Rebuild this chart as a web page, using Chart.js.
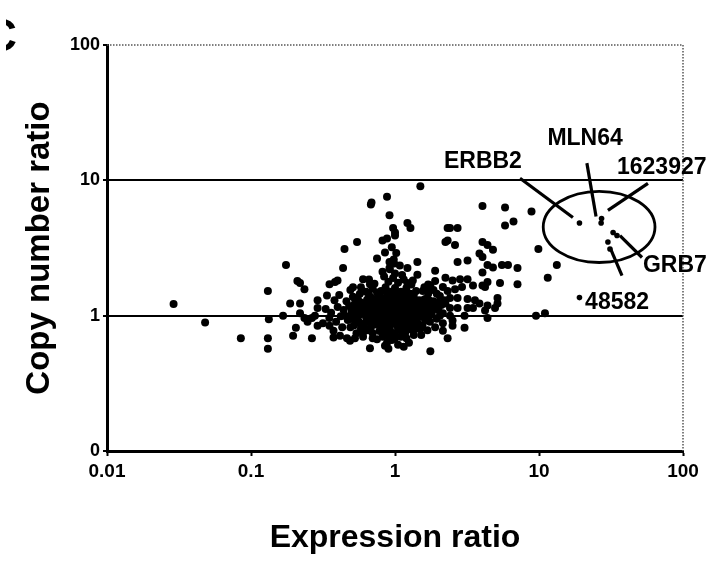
<!DOCTYPE html>
<html>
<head>
<meta charset="utf-8">
<script src="https://cdn.jsdelivr.net/npm/chart.js@4.4.1/dist/chart.umd.min.js"></script>
<style>
  html, body { margin: 0; padding: 0; background: #fff; }
  canvas { display: block; }
</style>
</head>
<body>
<canvas id="mygraph" width="714" height="561"></canvas>
<script>
const FONT = "'Liberation Sans', Arial, sans-serif";

// axis ticks
const expressionTicks = [0.01, 0.1, 1, 10, 100];
const copyTicks = [0.1, 1, 10, 100];
const copyTickLabels = ['0', '1', '10', '100'];

// scattered genes (expression ratio, copy number ratio)
const outliers = [
  [0.029,1.22],[0.048,0.89],[0.085,0.68],
  [0.131,1.52],[0.133,0.94],[0.131,0.68],[0.131,0.57],
  [0.175,2.37],[0.187,1.23],[0.167,1.0],[0.196,0.71],
  [0.21,1.8],[0.219,1.74],[0.235,1.57],[0.205,0.815],[0.265,0.68],
  [0.29,1.3],[0.29,1.14],[0.351,1.71],[0.399,1.82],[0.383,1.77],
  [0.446,3.11],[0.436,2.25],[0.545,3.5],
  [0.374,0.69],[0.527,0.68],[0.67,0.574],[0.852,0.6],
  [0.219,1.23],[0.337,1.41],[0.316,0.88],[0.351,0.843],[0.374,0.774],[0.415,0.711],
  [0.265,0.96],[0.219,1.04],[0.235,0.96],[0.247,0.9],[0.278,1.0],[0.29,0.843],
  [1.5,9.03],[0.88,7.55],[0.687,6.87],[0.68,6.64],[0.916,5.51],[1.22,4.84],[1.28,4.45],
  [0.97,4.45],[1.0,4.12],[1.0,3.91],[0.819,3.59],[0.88,3.72],[0.852,2.93],
  [2.32,3.59],[2.32,4.45],[0.75,2.64],[0.916,2.49],[0.985,2.43],[1.43,2.49],
  [1.22,2.25],[0.916,2.25],[0.819,2.11],[1.43,2.01],[1.9,2.15],
  [0.6,1.86],[0.67,1.71],[1.22,1.74],[1.33,1.82],[0.511,1.62],[1.76,1.67],[1.56,1.52],[2.15,1.63],
  [1.76,0.545],[0.852,0.75],[0.916,0.68],[0.464,0.68],[0.487,0.653],
  [4.05,6.47],[5.81,6.31],[8.87,5.89],[5.81,4.64],[6.65,4.97],
  [2.41,4.45],[2.72,4.45],[2.24,3.5],[2.61,3.33],
  [4.05,3.5],[4.39,3.33],[4.79,3.07],[3.86,2.88],[4.05,2.71],
  [2.72,2.49],[3.19,2.56],[4.39,2.37],[4.79,2.27],[5.53,2.37],[6.09,2.37],[7.09,2.25],
  [9.9,3.11],[4.05,2.08],[5.36,1.74],[7.09,1.71],[11.5,1.91],[13.3,2.37],
  [2.24,1.91],[2.51,1.82],[2.83,1.86],[3.19,1.86],
  [3.48,1.67],[4.05,1.67],[4.39,1.77],[4.22,1.63],
  [2.32,1.52],[2.61,1.57],[2.92,1.63],
  [2.41,1.35],[2.72,1.35],[3.19,1.33],[3.59,1.3],
  [5.15,1.35],[5.15,1.23],[3.86,1.23],[4.39,1.19],[4.22,1.09],
  [2.24,1.23],[2.41,1.14],[2.72,1.14],[3.19,1.14],[3.48,1.14],
  [2.15,1.04],[2.41,1.0],[2.51,0.92],[2.51,0.843],
  [3.04,1.0],[4.39,0.96],[4.95,1.14],
  [9.53,1.0],[11.0,1.04],[3.04,0.815],[2.32,0.68],[2.15,0.774],[2.15,0.88]
];

// the dense cloud around 1:1
const cluster = [
  [0.61,0.87],[0.63,0.97],[0.6,1.08],[0.62,1.19],[0.64,1.31],
  [0.67,0.91],[0.69,1.02],[0.66,1.13],[0.7,1.24],[0.68,1.36],
  [0.73,0.86],[0.75,0.95],[0.72,1.06],[0.76,1.16],[0.74,1.27],[0.77,1.42],
  [0.8,0.89],[0.82,0.99],[0.79,1.1],[0.83,1.21],[0.81,1.33],
  [0.87,0.84],[0.89,0.94],[0.86,1.04],[0.9,1.14],[0.88,1.25],[0.91,1.38],
  [0.95,0.88],[0.97,0.98],[0.94,1.09],[0.98,1.19],[0.96,1.3],
  [1.03,0.85],[1.05,0.95],[1.02,1.05],[1.06,1.15],[1.04,1.26],[1.07,1.4],
  [1.12,0.89],[1.14,1.0],[1.11,1.1],[1.16,1.21],[1.13,1.32],
  [1.22,0.86],[1.25,0.96],[1.21,1.06],[1.26,1.17],[1.23,1.28],
  [1.33,0.9],[1.36,1.01],[1.32,1.11],[1.38,1.22],[1.35,1.34],
  [1.45,0.87],[1.48,0.98],[1.44,1.08],[1.5,1.18],[1.47,1.3],
  [0.47,0.93],[0.5,1.05],[0.48,1.18],[0.52,0.85],[0.55,0.98],[0.53,1.12],[0.56,1.27],[0.51,1.38],
  [0.58,0.8],[0.57,1.45],[0.44,1.1],[0.46,1.28],[0.42,0.99],[0.4,1.16],[0.43,0.82],[0.39,0.9],
  [0.36,1.05],[0.38,1.3],[0.35,0.96],[0.33,1.12],[0.41,1.42],[0.49,1.55],
  [0.54,0.74],[0.6,0.75],[0.65,0.78],[0.7,0.74],[0.78,0.77],[0.85,0.72],[0.93,0.76],[1.0,0.74],
  [1.1,0.78],[1.18,0.75],[1.3,0.79],[0.75,0.67],[0.95,0.66],[1.2,0.68],[0.88,0.63],[1.05,0.61],
  [0.63,1.5],[0.7,1.58],[0.8,1.52],[0.86,1.62],[0.94,1.5],[1.0,1.6],[1.1,1.5],[1.2,1.6],
  [1.28,1.45],[1.4,1.52],[0.72,1.72],[0.9,1.78],[0.97,1.9],[1.05,1.75],[1.15,1.85],[0.84,1.95],
  [1.3,1.7],[0.58,1.62],[0.66,1.85],[1.0,2.05],[0.92,2.2],[1.08,2.35],[0.98,2.6],[1.02,2.9],
  [0.95,3.2],[1.12,2.0],
  [1.55,0.85],[1.6,0.96],[1.58,1.08],[1.65,1.2],[1.62,1.33],[1.7,1.45],[1.75,0.9],[1.8,1.02],
  [1.78,1.15],[1.85,1.28],[1.9,0.82],[1.95,0.95],[2.0,1.1],[1.98,1.25],[2.05,1.4],[1.68,0.78],
  [1.52,0.72],[1.85,1.55],[1.6,1.62],[2.1,1.2],[2.2,1.3],[1.7,1.7],[1.9,1.8],
  [0.64,0.9],[0.65,1.0],[0.63,1.12],[0.66,1.24],
  [0.71,0.88],[0.7,0.98],[0.72,1.11],[0.71,1.2],[0.72,1.32],
  [0.78,0.92],[0.77,1.03],[0.79,1.15],[0.78,1.26],[0.79,1.38],
  [0.84,0.87],[0.85,0.97],[0.84,1.08],[0.86,1.18],[0.85,1.3],
  [0.92,0.9],[0.93,1.01],[0.92,1.12],[0.93,1.22],[0.94,1.35],
  [1.0,0.92],[0.99,1.02],[1.0,1.13],[1.01,1.23],[1.0,1.36],
  [1.08,0.87],[1.09,0.98],[1.08,1.08],[1.1,1.18],[1.09,1.29],
  [1.18,0.92],[1.19,1.03],[1.17,1.13],[1.2,1.24],[1.19,1.37],
  [1.29,0.87],[1.3,0.99],[1.28,1.08],[1.3,1.19],[1.29,1.3],
  [1.41,0.92],[1.42,1.04],[1.4,1.14],[1.43,1.26],
  [0.56,0.9],[0.57,1.02],[0.58,1.15],[0.55,1.35],[0.59,0.85],
  [0.5,0.95],[0.52,1.2],[0.45,1.0],[0.49,0.82],
  [1.52,1.0],[1.55,1.12],[1.53,1.25],[1.64,0.92],[1.66,1.05],[1.72,1.3],[1.82,1.1],[1.9,1.2],
  [1.75,1.55],[1.95,1.45],[2.05,1.0],
  [0.68,0.82],[0.8,0.8],[0.92,0.81],[1.05,0.8],[1.15,0.82],[1.25,0.81],[1.4,0.8],[0.62,0.8],
  [0.75,1.48],[0.88,1.45],[1.0,1.45],[1.12,1.42],[1.22,1.45],[0.66,1.42],[1.35,1.42],
  [0.82,0.7],[1.0,0.68],[1.1,0.7],[1.35,0.72],[0.7,0.68],[0.6,0.7],[1.5,0.8],[1.25,0.63],
  [0.9,0.57],[1.15,0.59],
  [0.52,1.0],[0.54,1.08],[0.5,1.12],[0.55,0.92],[0.53,1.3],[0.58,1.25],
  [1.6,1.05],[1.62,1.15],[1.7,0.98],[1.68,1.22],[1.75,1.1],[1.56,1.3]
];

// amplicon genes and 48582
const amplicon = [
  [19.1,4.84],[27.2,5.23],[27.0,4.84],[32.7,4.12],[34.8,3.91],[30.1,3.5],[31.1,3.11],[19.1,1.36]
];

// ellipse bounding box (x from, x to, y from, y to)
const ellipseBox = [10.7, 63.9, 2.47, 8.29];

// leader lines [x1, y1, x2, y2]
const leaders = [
  [7.38, 10.35, 17.2, 5.32],
  [21.5, 13.4, 24.9, 5.41],
  [57.1, 9.5, 30.1, 6.0],
  [36.5, 3.91, 51.9, 2.69],
  [31.1, 3.19, 37.7, 1.98]
];

// gene labels: text, x, y, alignment
const geneNames = ['ERBB2', 'MLN64', '1623927', 'GRB7', '48582'];
const geneX = [4.08, 20.9, 34.8, 52.7, 20.9];
const geneY = [13.7, 20.3, 12.4, 2.35, 1.24];
const geneAlign = ['center', 'center', 'left', 'left', 'left'];

const overlay = {
  id: 'overlay',
  beforeDatasetsDraw(chart) {
    const {ctx, chartArea: a} = chart;
    ctx.save();
    ctx.strokeStyle = '#555';
    ctx.lineWidth = 1.5;
    ctx.setLineDash([1.5, 1.5]);
    ctx.beginPath();
    ctx.moveTo(a.left, a.top);
    ctx.lineTo(a.right, a.top);
    ctx.lineTo(a.right, a.bottom);
    ctx.stroke();
    ctx.restore();
  },
  afterDatasetsDraw(chart) {
    const {ctx, chartArea: a} = chart;
    const xs = chart.scales.x, ys = chart.scales.y;
    ctx.save();
    ctx.strokeStyle = '#000';
    ctx.fillStyle = '#000';

    // ellipse
    const x1 = xs.getPixelForValue(ellipseBox[0]), x2 = xs.getPixelForValue(ellipseBox[1]);
    const y1 = ys.getPixelForValue(ellipseBox[3]), y2 = ys.getPixelForValue(ellipseBox[2]);
    ctx.lineWidth = 2.8;
    ctx.beginPath();
    ctx.ellipse((x1 + x2) / 2, (y1 + y2) / 2, (x2 - x1) / 2, (y2 - y1) / 2, 0, 0, Math.PI * 2);
    ctx.stroke();

    // leader lines
    ctx.lineWidth = 3.2;
    leaders.forEach(l => {
      ctx.beginPath();
      ctx.moveTo(xs.getPixelForValue(l[0]), ys.getPixelForValue(l[1]));
      ctx.lineTo(xs.getPixelForValue(l[2]), ys.getPixelForValue(l[3]));
      ctx.stroke();
    });

    // gene names
    ctx.font = 'bold 23px ' + FONT;
    ctx.textBaseline = 'middle';
    geneNames.forEach((name, i) => {
      ctx.textAlign = geneAlign[i];
      ctx.fillText(name, xs.getPixelForValue(geneX[i]), ys.getPixelForValue(geneY[i]));
    });

    // axis titles
    ctx.font = 'bold 32px ' + FONT;
    ctx.textAlign = 'center';
    ctx.fillText('Expression ratio', (a.left + a.right) / 2, a.bottom + 87);
    ctx.save();
    ctx.translate(40, (a.top + a.bottom) / 2);
    ctx.rotate(-Math.PI / 2);
    ctx.font = 'bold 33px ' + FONT;
    ctx.fillText('Copy number ratio', 0, 0);
    ctx.restore();

    // cut-off panel letter
    ctx.beginPath();
    ctx.rect(6, 0, 20, 70);
    ctx.clip();
    ctx.font = 'bold 46px ' + FONT;
    ctx.textAlign = 'right';
    ctx.fillText('C', 17, 38);
    ctx.restore();
  }
};

const tickFont = {family: FONT, size: 19, weight: 'bold'};

const config = {
  type: 'scatter',
  data: {
    datasets: [
      {
        label: 'genes',
        data: outliers.concat(cluster).map(p => ({x: p[0], y: p[1]})),
        backgroundColor: '#000',
        borderWidth: 0,
        pointRadius: 4
      },
      {
        label: 'amplicon',
        data: amplicon.map(p => ({x: p[0], y: p[1]})),
        backgroundColor: '#000',
        borderWidth: 0,
        pointRadius: 2.8
      }
    ]
  },
  options: {
    responsive: false,
    animation: false,
    devicePixelRatio: 1,
    layout: {padding: {left: 0, right: 31, top: 45, bottom: 0}},
    plugins: {legend: {display: false}, tooltip: {enabled: false}},
    scales: {
      x: {
        type: 'logarithmic',
        min: 0.01,
        max: 100,
        afterBuildTicks: s => { s.ticks = expressionTicks.map(v => ({value: v})); },
        afterFit: s => { s.height = 110; },
        ticks: {font: tickFont, color: '#000', padding: 4, maxRotation: 0,
          callback: v => String(v)},
        grid: {drawOnChartArea: false, tickColor: '#000', tickLength: 5, tickWidth: 2},
        border: {color: '#000', width: 3}
      },
      y: {
        type: 'logarithmic',
        min: 0.1,
        max: 100,
        afterBuildTicks: s => { s.ticks = copyTicks.map(v => ({value: v})); },
        afterFit: s => { s.width = 107; },
        ticks: {font: {family: FONT, size: 18, weight: 'bold'}, color: '#000', padding: 3,
          callback: v => copyTickLabels[copyTicks.indexOf(v)]},
        grid: {
          color: c => (c.tick && (c.tick.value === 1 || c.tick.value === 10)) ? '#000' : 'rgba(0,0,0,0)',
          lineWidth: 2,
          tickColor: '#000',
          tickLength: 4,
          tickWidth: 2
        },
        border: {color: '#000', width: 3}
      }
    }
  },
  plugins: [overlay]
};

const mygraph = new Chart(document.getElementById('mygraph'), config);
</script>
</body>
</html>
